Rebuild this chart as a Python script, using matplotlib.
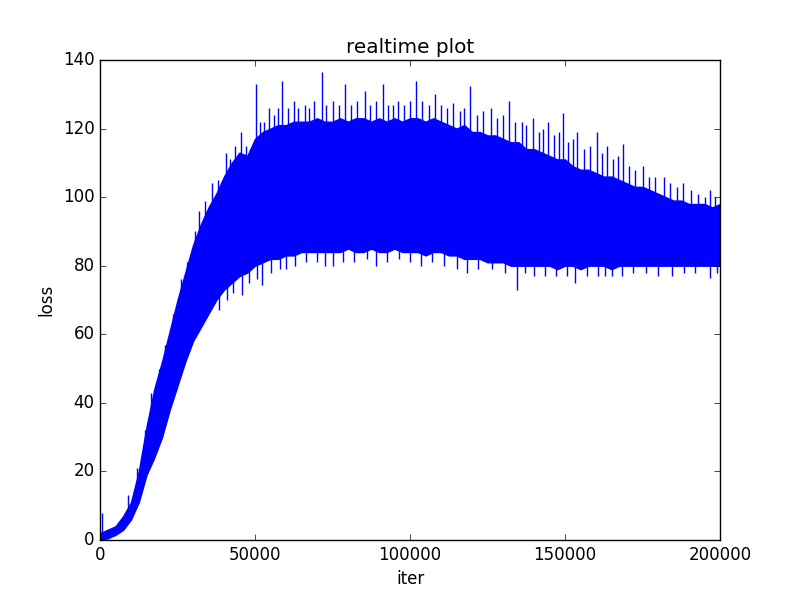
import numpy as np
import matplotlib
matplotlib.use('Agg')
import matplotlib.pyplot as plt
plt.style.use('classic')

# envelope of the dense loss band, read every 2500 iterations
iters = np.arange(0, 200001, 2500)
upper = [2, 3, 4, 7, 11, 20, 33, 44, 52, 61, 70, 78, 86, 92, 97, 101, 106, 110, 113, 112,
         117, 119, 120, 121, 121, 122, 122, 122, 123, 122, 122, 123, 122, 123, 123, 122, 123,
         122, 123, 122, 123, 123, 122, 123, 122, 121, 120, 121, 119, 119, 118, 118, 117, 116,
         116, 114, 114, 113, 112, 111, 111, 109, 108, 108, 107, 106, 106, 105, 104, 103, 103,
         102, 101, 100, 99, 99, 98, 98, 98, 97, 98]
lower = [0, 0.5, 1.5, 3, 6, 11, 19, 24, 30, 38, 45, 52, 58, 62, 66, 70, 73, 75, 77, 78,
         80, 81, 82, 82, 83, 83, 84, 84, 84, 84, 84, 84, 85, 84, 84, 85, 84, 84, 85, 84, 84,
         84, 83, 84, 84, 83, 83, 82, 82, 82, 81, 81, 81, 80, 80, 80, 80, 80, 80, 79, 80, 80,
         79, 80, 80, 80, 79, 80, 80, 80, 80, 80, 80, 80, 80, 80, 80, 80, 80, 80, 80]

# spikes sticking out above the band
peak_x = [800, 9000, 12000, 14500, 16500, 19000, 21000, 23500, 26000, 28000, 30500, 32000,
          34000, 36000, 38000, 40500, 42000, 43500, 45500, 47000, 48500, 50200, 51500, 53000,
          54500, 56000, 57500, 58600, 60500, 62500, 64000, 66000, 67500, 69000, 71500, 73000,
          75000, 77000, 79000, 81000, 83000, 85500, 87000, 89000, 91300, 93000, 94500, 96000,
          98000, 100000, 102000, 104000, 106000, 108000, 110000, 112000, 113900, 116000,
          117500, 119400, 121500, 123500, 126000, 128000, 130000, 132000, 134000, 136000,
          137500, 139700, 141500, 143000, 144500, 146500, 148000, 149400, 151000, 152500,
          154000, 156000, 158000, 160300, 162000, 163500, 165500, 167000, 168700, 170500,
          172500, 175200, 177000, 179000, 182000, 184000, 186000, 188000, 190500, 193000,
          195000, 196800, 198500]
peak_y = [8, 13, 21, 32, 43, 50, 57, 66, 76, 81, 90, 96, 99, 104, 105, 113, 111, 115, 119,
          115, 114, 133, 122, 122, 126, 124, 126, 134, 126, 128, 126, 127, 126, 128, 136.5,
          127, 128, 127, 133, 127, 128, 131, 127, 128, 133, 127, 127, 128, 127, 128, 134, 128,
          127, 130, 127, 126, 127.5, 125, 126, 132.5, 124, 125, 126, 123, 124, 128, 122, 122,
          121, 123, 119, 120, 122, 118, 119, 124.5, 116, 117, 119, 114, 115, 119, 113, 115,
          111, 112, 115.5, 109, 108, 109, 106, 106, 106, 104, 103, 104, 102, 101, 100, 102, 100]

# spikes dipping below the band
dip_x = [38500, 41000, 43000, 45700, 48000, 50500, 52200, 55000, 58000, 60000, 63000, 66500,
         70000, 72500, 75000, 78500, 82000, 86000, 89000, 92500, 96500, 100000, 103500,
         107000, 111000, 115000, 118300, 122000, 126500, 130500, 134400, 137000, 140000,
         143500, 147000, 150500, 153200, 157000, 160500, 163000, 165000, 168500, 172000,
         176000, 180000, 184500, 188500, 192000, 196800, 199000]
dip_y = [67, 70, 72, 71.5, 75, 76, 74.5, 78, 79, 79, 80, 81, 81, 80, 80, 81, 81, 82, 80, 81,
         82, 81, 80, 81, 80, 79, 78, 79, 79, 78, 73, 78, 77, 77, 77, 77, 75, 77, 77, 77, 77,
         77, 78, 78, 77, 77, 78, 78, 76.3, 78]

fig = plt.figure(figsize=(8, 6), dpi=100)
ax = fig.add_subplot(111)
ax.fill_between(iters, lower, upper, color='b', edgecolor='b', linewidth=1)
ax.vlines(peak_x, np.interp(peak_x, iters, upper) - 1, peak_y, color='b', linewidth=1)
ax.vlines(dip_x, dip_y, np.interp(dip_x, iters, lower) + 1, color='b', linewidth=1)

ax.set_xlim(0, 200000)
ax.set_ylim(0, 140)
ax.set_title('realtime plot')
ax.set_xlabel('iter')
ax.set_ylabel('loss')

fig.savefig('out.png', dpi=100)
